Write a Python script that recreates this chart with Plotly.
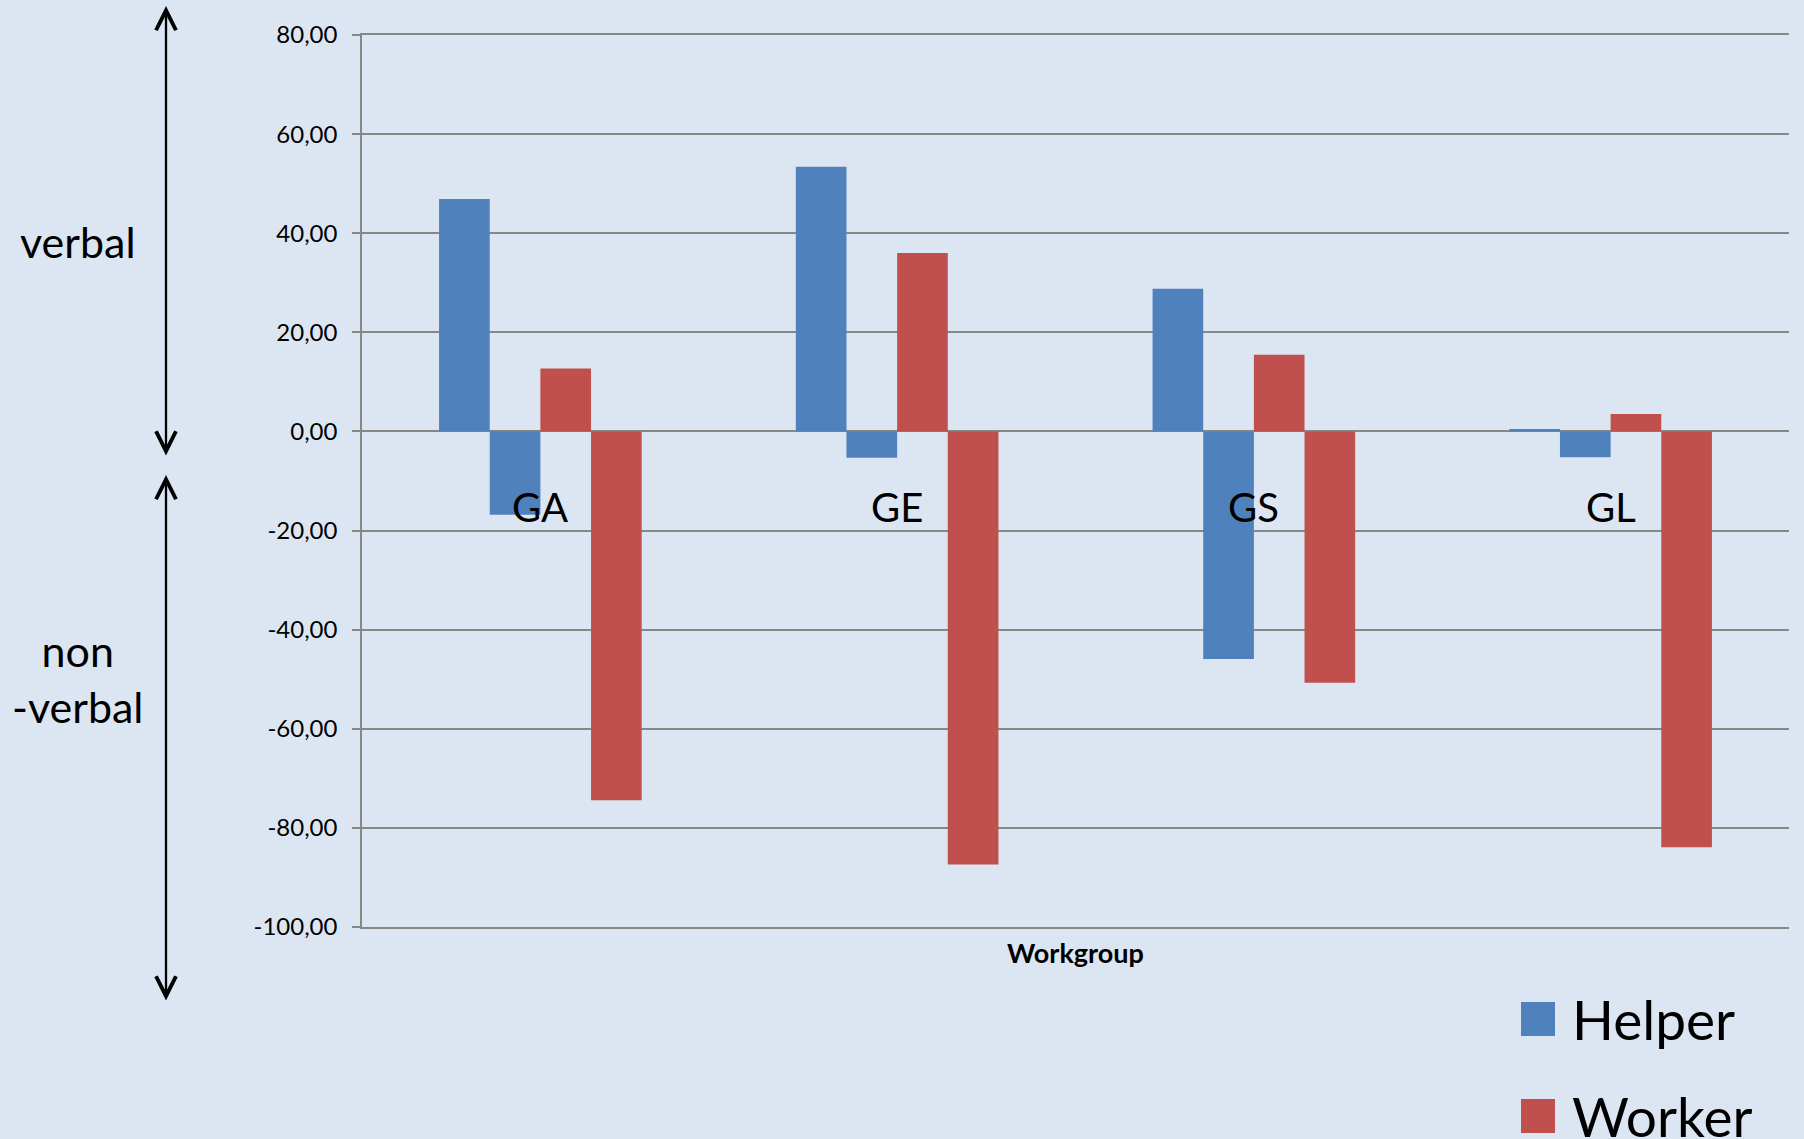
import plotly.graph_objects as go

# ---- data ----
categories = ["GA", "GE", "GS", "GL"]
helper_verbal = [46.9, 53.4, 28.8, 0.5]
helper_nonverbal = [-16.8, -5.3, -45.9, -5.2]
worker_verbal = [12.7, 36.0, 15.5, 3.5]
worker_nonverbal = [-74.4, -87.4, -50.7, -83.9]
series_names = ["Helper", "Worker"]
y_ticks = [-100, -80, -60, -40, -20, 0, 20, 40, 60, 80]
y_ticktext = [f"{v:.2f}".replace(".", ",") for v in y_ticks]
x_title = "Workgroup"
side_labels = ["verbal", "non<br>-verbal"]

colors = {"Helper": "#4F81BD", "Worker": "#C0504D"}
BG = "#DCE6F2"
GRID = "#878787"
FONT = "Lato"

W, H = 1804, 1139
L, R, T, B = 362, 15, 35, 212
pw, ph = W - L - R, H - T - B


def px_x(x):
    return (x - L) / pw


def px_y(y):
    return (H - B - y) / ph


fig = go.Figure()
for vals, name in [(helper_verbal, "Helper"), (helper_nonverbal, "Helper"),
                   (worker_verbal, "Worker"), (worker_nonverbal, "Worker")]:
    fig.add_trace(go.Bar(
        x=categories, y=vals, name=name,
        marker=dict(color=colors[name], line=dict(width=0)),
        showlegend=False,
    ))

annotations = []
# category labels inside the plot
for c in categories:
    annotations.append(dict(x=c, y=-15.3, xref="x", yref="y", text=c, showarrow=False,
                            font=dict(family=FONT, size=40, color="black"),
                            xanchor="center", yanchor="middle"))

# side labels
annotations.append(dict(x=px_x(78), y=px_y(242), xref="paper", yref="paper",
                        text=side_labels[0], showarrow=False,
                        font=dict(family=FONT, size=43, color="black"),
                        xanchor="center", yanchor="middle"))
annotations.append(dict(x=px_x(78), y=px_y(678), xref="paper", yref="paper",
                        text=side_labels[1], showarrow=False, align="center",
                        font=dict(family=FONT, size=43, color="black"),
                        xanchor="center", yanchor="middle"))

# double-headed arrows
for top, bot in [(6, 457), (475, 1002)]:
    annotations.append(dict(x=px_x(166), y=px_y(top), xref="paper", yref="paper",
                            ax=0, ay=bot - top, axref="pixel", ayref="pixel",
                            text="", showarrow=True, arrowhead=5, arrowside="end+start",
                            arrowwidth=2.3, arrowsize=1.7, arrowcolor="black",
                            startarrowhead=5, startarrowsize=1.7))

# manual legend
shapes = []
leg_y = [(1002, 1036), (1099, 1133)]
for name, (y0, y1) in zip(series_names, leg_y):
    shapes.append(dict(type="rect", xref="paper", yref="paper",
                       x0=px_x(1521), x1=px_x(1555), y0=px_y(y1), y1=px_y(y0),
                       fillcolor=colors[name], line=dict(width=0)))
    annotations.append(dict(x=px_x(1570), y=px_y((y0 + y1) / 2), xref="paper", yref="paper",
                            text=name, showarrow=False,
                            font=dict(family=FONT, size=55, color="black"),
                            xanchor="left", yanchor="middle"))

fig.update_layout(
    width=W, height=H,
    margin=dict(l=L, r=R, t=T, b=B, pad=0),
    paper_bgcolor=BG, plot_bgcolor=BG,
    barmode="group", bargap=0.432, bargroupgap=0,
    font=dict(family=FONT, color="black"),
    annotations=annotations,
    shapes=shapes,
    showlegend=False,
)
fig.update_yaxes(
    range=[-100, 80], tickvals=y_ticks, ticktext=y_ticktext,
    showgrid=True, gridcolor=GRID, gridwidth=1.5,
    zeroline=True, zerolinecolor=GRID, zerolinewidth=1.5,
    showline=True, linecolor=GRID, linewidth=1.5,
    ticks="outside", ticklen=8, tickcolor=GRID, tickwidth=1.5,
    ticklabelstandoff=10,
    tickfont=dict(family=FONT, size=24, color="black"),
)
fig.update_xaxes(
    showticklabels=False, showgrid=False, zeroline=False,
    showline=True, mirror=True, linecolor=GRID, linewidth=1.5,
    title=dict(text="<b>" + x_title + "</b>", standoff=16,
               font=dict(family=FONT, size=27, color="black")),
)

fig.write_html("out.html", config={"displayModeBar": False},
               post_script="document.body.style.margin='0';")
